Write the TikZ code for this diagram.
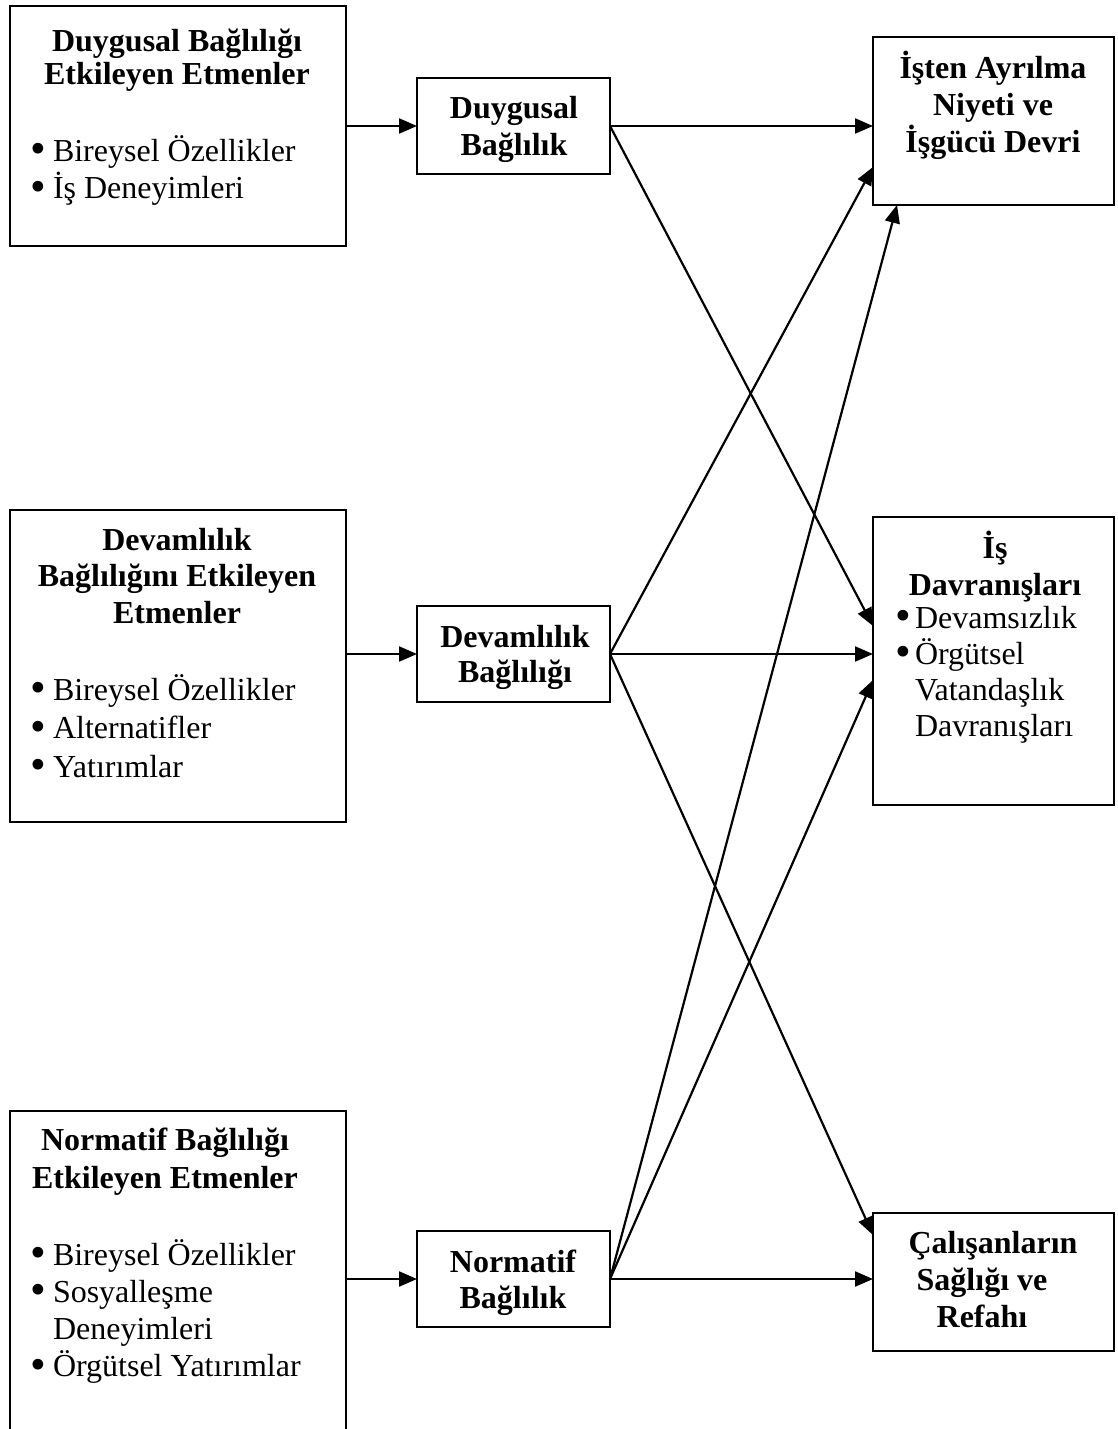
\documentclass[tikz,border=0pt]{standalone}
\usepackage{fontspec}
\setmainfont{Liberation Serif}
\usetikzlibrary{arrows.meta}
\newcommand\tblock[3]{\parbox[t]{#1}{\lineskiplimit=-100pt\lineskip=0pt\baselineskip=#2\relax #3}}
\newcommand\bigbul{\raisebox{-2.6pt}{\scalebox{1.4}{\textbullet}}}
\newcommand\mybul{\makebox[23pt][l]{\bigbul}}
\newcommand\myind{\hspace*{23pt}}
\begin{document}
\begin{tikzpicture}[x=1pt,y=-1pt,
  box/.style={draw, line width=2.2pt, rectangle, inner sep=0pt, outer sep=0pt},
  txt/.style={inner sep=0pt, outer sep=0pt, font=\fontsize{32}{36}\selectfont},
  conn/.style={line width=2.2pt, -{Triangle[length=18pt,width=15pt]}}
]
\useasboundingbox (0,0) rectangle (1117,1429);
\clip (0,0) rectangle (1117,1429);

% left boxes
\node[box, minimum width=336pt, minimum height=240pt] (b1) at (178,126) {};
\node[box, minimum width=336pt, minimum height=312pt] (b2) at (178,666) {};
\node[box, minimum width=336pt, minimum height=330pt] (b3) at (178,1276) {};

% middle boxes
\node[box, minimum width=193pt, minimum height=96pt] (duy) at (513.5,126) {};
\node[box, minimum width=193pt, minimum height=96pt] (devam) at (513.5,654) {};
\node[box, minimum width=193pt, minimum height=96pt] (norm) at (513.5,1279) {};

% right boxes
\node[box, minimum width=241pt, minimum height=168pt] (isten) at (993.5,121) {};
\node[box, minimum width=241pt, minimum height=288pt] (isdav) at (993.5,661) {};
\node[box, minimum width=241pt, minimum height=138pt] (calis) at (993.5,1282) {};

% texts of left boxes
\node[txt, anchor=base] (t1h) at (177,52) {\tblock{320pt}{33pt}{\centering\bfseries Duygusal Bağlılığı\\Etkileyen Etmenler}};
\node[txt, anchor=base west] (t1b) at (30,161) {\tblock{310pt}{37.5pt}{\raggedright\mybul Bireysel Özellikler\\\mybul İş Deneyimleri}};

\node[txt, anchor=base] (t2h) at (177,550) {\tblock{330pt}{36.5pt}{\centering\bfseries Devamlılık\\Bağlılığını Etkileyen\\Etmenler}};
\node[txt, anchor=base west] (t2b) at (30,700) {\tblock{310pt}{38.5pt}{\raggedright\mybul Bireysel Özellikler\\\mybul Alternatifler\\\mybul Yatırımlar}};

\node[txt, anchor=base] (t3h) at (165,1150) {\tblock{320pt}{38pt}{\centering\bfseries Normatif Bağlılığı\\Etkileyen Etmenler}};
\node[txt, anchor=base west] (t3b) at (30,1265) {\tblock{310pt}{37.3pt}{\raggedright\mybul Bireysel Özellikler\\\mybul Sosyalleşme\\\myind Deneyimleri\\\mybul Örgütsel Yatırımlar}};

% texts of middle boxes
\node[txt, anchor=base] (tduy) at (514,118) {\tblock{190pt}{37pt}{\centering\bfseries Duygusal\\Bağlılık}};
\node[txt, anchor=base] (tdev) at (515,647) {\tblock{190pt}{35pt}{\centering\bfseries Devamlılık\\Bağlılığı}};
\node[txt, anchor=base] (tnor) at (513,1272) {\tblock{190pt}{36pt}{\centering\bfseries Normatif\\Bağlılık}};

% texts of right boxes
\node[txt, anchor=base] (tist) at (993,78) {\tblock{238pt}{37pt}{\centering\bfseries İşten Ayrılma\\Niyeti ve\\İşgücü Devri}};
\node[txt, anchor=base] (tdavh) at (995,558) {\tblock{238pt}{37pt}{\centering\bfseries İş\\Davranışları}};
\node[txt, anchor=base west] (tdavb) at (895,628) {\tblock{215pt}{36.3pt}{\raggedright\makebox[20pt][l]{\bigbul}Devamsızlık\\\makebox[20pt][l]{\bigbul}Örgütsel\\\hspace*{20pt}Vatandaşlık\\\hspace*{20pt}Davranışları}};
\node[txt, anchor=base] (tcal) at (993,1253) {\tblock{238pt}{37pt}{\centering\bfseries Çalışanların\\\hspace*{-22pt}Sağlığı ve\\\hspace*{-22pt}Refahı}};

% connectors
\draw[conn] (duy.west -| b1.east) -- (duy.west);
\draw[conn] (devam.west -| b2.east) -- (devam.west);
\draw[conn] (norm.west -| b3.east) -- (norm.west);

\draw[conn] (duy.east) -- (duy.east -| isten.west);
\draw[conn] (duy.east) -- ([yshift=-109pt]isdav.north west);

\draw[conn] (devam.east) -- ([yshift=-130pt]isten.north west);
\draw[conn] (devam.east) -- (devam.east -| isdav.west);
\draw[conn] (devam.east) -- ([yshift=-22pt]calis.north west);

\draw[conn] (norm.east) -- ([xshift=24pt]isten.south west);
\draw[conn] (norm.east) -- ([yshift=-163pt]isdav.north west);
\draw[conn] (norm.east) -- (norm.east -| calis.west);
\end{tikzpicture}
\end{document}
